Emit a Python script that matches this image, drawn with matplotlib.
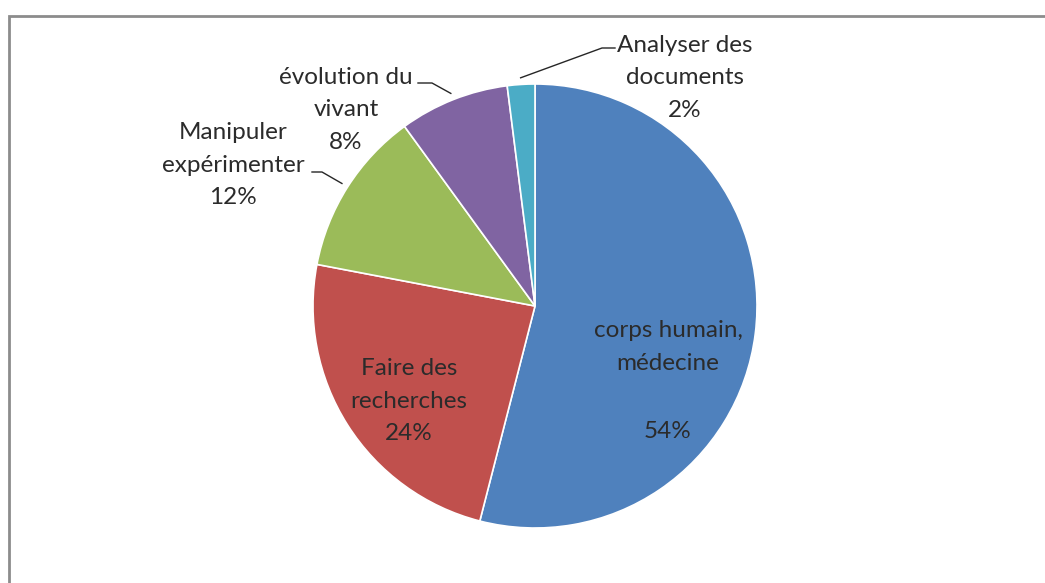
import numpy as np
import matplotlib
matplotlib.use("Agg")
import matplotlib.pyplot as plt
from matplotlib.patches import Rectangle

plt.rcParams['font.family'] = ['Lato', 'DejaVu Sans']

# données du graphique
categories = ["corps humain,\nmédecine", "Faire des\nrecherches", "Manipuler\nexpérimenter",
              "évolution du\nvivant", "Analyser des\ndocuments"]
valeurs = [54, 24, 12, 8, 2]
couleurs = ["#4F81BD", "#C0504D", "#9BBB59", "#8064A2", "#4BACC6"]

W, H = 1045, 583
fig = plt.figure(figsize=(W / 100, H / 100), dpi=100)
ax = fig.add_axes([0, 0, 1, 1])
ax.set_xlim(0, W)
ax.set_ylim(0, H)
ax.set_aspect("equal")
ax.axis("off")

# cadre du graphique (coupé en bas et à droite)
fig.patches.append(Rectangle((9 / W, -0.2), 1.2, 1.2 - 16 / H, transform=fig.transFigure,
                             fill=False, edgecolor="#8c8c8c", lw=2))

cx, cy, r = 535, H - 306, 222
wedges, _ = ax.pie(valeurs, colors=couleurs, startangle=90, counterclock=False,
                   center=(cx, cy), radius=r, frame=True,
                   wedgeprops=dict(edgecolor="white", linewidth=1.2))
ax.set_xlim(0, W)
ax.set_ylim(0, H)
ax.axis("off")

txt = dict(color="#2b2b2b", fontsize=17.5, ha="center", va="center", linespacing=1.68)

def milieu(w, f=1.0):
    a = np.deg2rad((w.theta1 + w.theta2) / 2)
    return cx + f * r * np.cos(a), cy + f * r * np.sin(a)

# étiquettes intérieures
ax.text(668, H - 347, categories[0], **txt)
ax.text(668, H - 432, f"{valeurs[0]}%", **txt)
ax.text(409, H - 401, f"{categories[1]}\n{valeurs[1]}%", **txt)

# étiquettes extérieures avec traits de rappel
ext = [
    (2, (233, H - 165), (312, H - 172), (322, H - 172)),
    (3, (346, H - 110), (418, H - 83), (432, H - 83)),
    (4, (685, H - 78), (615, H - 48), (602, H - 48)),
]
for i, pos, bout, coude in ext:
    ax.text(pos[0], pos[1], f"{categories[i]}\n{valeurs[i]}%", **txt)
    x0, y0 = milieu(wedges[i], 1.03)
    ax.plot([bout[0], coude[0], x0], [bout[1], coude[1], y0], color="#262626", lw=1)

fig.savefig("out.png", dpi=100)
